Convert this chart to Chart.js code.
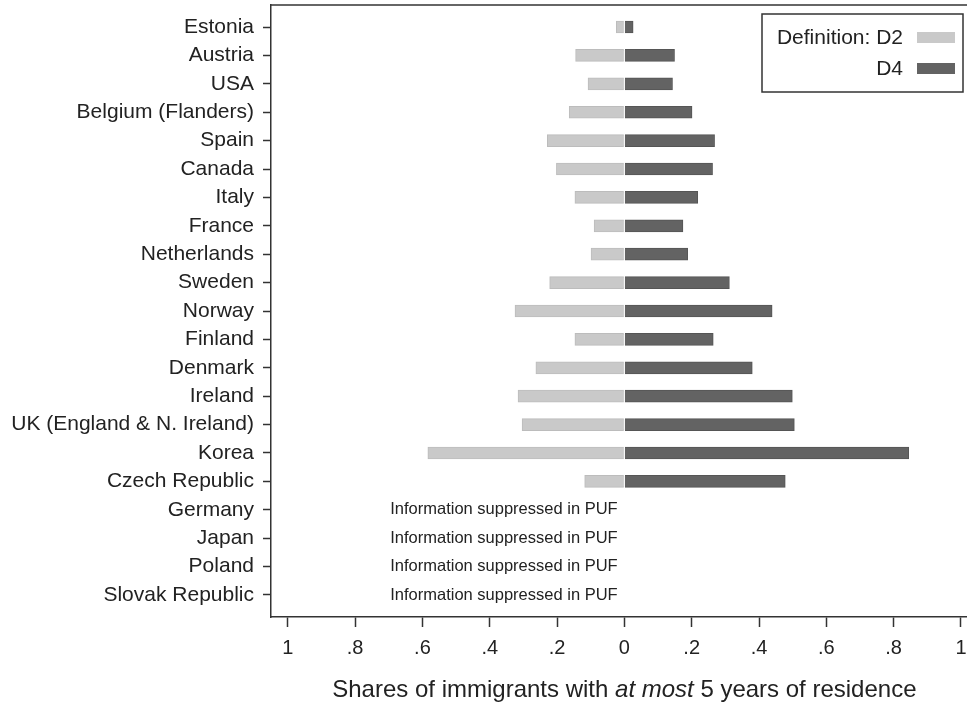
<!DOCTYPE html>
<html>
<head>
<meta charset="utf-8">
<script src="https://cdn.jsdelivr.net/npm/chart.js@4.4.1/dist/chart.umd.min.js"></script>
<style>
  html, body { margin: 0; padding: 0; background: #fff; }
  #wrap { width: 967px; height: 709px; position: relative; }
</style>
</head>
<body>
<div id="wrap"><canvas id="mycanvas"></canvas></div>
<script>
var countries = ["Estonia", "Austria", "USA", "Belgium (Flanders)", "Spain", "Canada", "Italy",
  "France", "Netherlands", "Sweden", "Norway", "Finland", "Denmark", "Ireland",
  "UK (England & N. Ireland)", "Korea", "Czech Republic", "Germany", "Japan", "Poland", "Slovak Republic"];

// shares (null = suppressed)
var d2 = [0.024, 0.145, 0.108, 0.164, 0.229, 0.202, 0.147, 0.090, 0.099, 0.222, 0.325,
  0.147, 0.263, 0.316, 0.304, 0.584, 0.118, null, null, null, null];
var d4 = [0.026, 0.149, 0.143, 0.201, 0.268, 0.262, 0.218, 0.174, 0.188, 0.312, 0.439,
  0.264, 0.380, 0.499, 0.505, 0.845, 0.478, null, null, null, null];

var xTicks = [-1, -0.8, -0.6, -0.4, -0.2, 0, 0.2, 0.4, 0.6, 0.8, 1];
var suppressedText = "Information suppressed in PUF";
var titleParts = [["Shares of immigrants with ", false], ["at most", true], [" 5 years of residence", false]];

var FONT = "'Liberation Sans', Arial, Helvetica, sans-serif";

var d2pts = [], d4pts = [];
for (var i in countries) {
  if (d2[i] != null) d2pts.push({x: -d2[i], y: +i});
  if (d4[i] != null) d4pts.push({x: d4[i], y: +i});
}

var chartdata = {
  datasets: [
    {
      label: "Definition: D2",
      backgroundColor: "#c9c9c9",
      borderColor: "#bcbcbc",
      borderWidth: 1,
      barThickness: 12,
      data: d2pts
    },
    {
      label: "D4",
      backgroundColor: "#636363",
      borderColor: "#555555",
      borderWidth: 1,
      barThickness: 12,
      data: d4pts
    }
  ]
};

var extras = {
  id: "extras",
  afterDatasetsDraw: function(chart) {
    var ctx = chart.ctx, a = chart.chartArea;
    var xs = chart.scales.x, ys = chart.scales.y;
    ctx.save();
    // top frame line
    ctx.strokeStyle = "#333";
    ctx.lineWidth = 1.5;
    ctx.beginPath();
    ctx.moveTo(a.left, a.top);
    ctx.lineTo(a.right, a.top);
    ctx.stroke();

    // suppressed notes
    ctx.fillStyle = "#222";
    ctx.font = "16.5px " + FONT;
    ctx.textAlign = "right";
    ctx.textBaseline = "middle";
    for (var i in countries) {
      if (d2[i] == null && d4[i] == null)
        ctx.fillText(suppressedText, xs.getPixelForValue(-0.02), ys.getPixelForValue(+i));
    }

    // legend
    var bx = a.right - 205, by = a.top + 9;
    ctx.strokeStyle = "#333";
    ctx.lineWidth = 1.5;
    ctx.strokeRect(bx, by, 201, 78);
    ctx.font = "21px " + FONT;
    var ds = chart.data.datasets;
    for (var k = 0; k < ds.length; k++) {
      var ry = by + 24 + k * 31;
      ctx.fillStyle = "#222";
      ctx.fillText(ds[k].label, bx + 141, ry);
      ctx.fillStyle = ds[k].backgroundColor;
      ctx.fillRect(bx + 155, ry - 6, 38, 11);
    }

    // x axis title with italic part
    var widths = titleParts.map(function(p) {
      ctx.font = (p[1] ? "italic " : "") + "24px " + FONT;
      return ctx.measureText(p[0]).width;
    });
    var total = widths.reduce(function(s, w) { return s + w; }, 0);
    var tx = xs.getPixelForValue(0) - total / 2;
    ctx.textAlign = "left";
    ctx.fillStyle = "#222";
    for (var p = 0; p < titleParts.length; p++) {
      ctx.font = (titleParts[p][1] ? "italic " : "") + "24px " + FONT;
      ctx.fillText(titleParts[p][0], tx, 690);
      tx += widths[p];
    }
    ctx.restore();
  }
};

var ctx = document.getElementById("mycanvas");

var barGraph = new Chart(ctx, {
  type: "bar",
  data: chartdata,
  plugins: [extras],
  options: {
    indexAxis: "y",
    responsive: true,
    maintainAspectRatio: false,
    animation: false,
    layout: { padding: { top: 5, right: 0, left: 0, bottom: 0 } },
    plugins: { legend: { display: false }, tooltip: { enabled: false } },
    scales: {
      x: {
        type: "linear",
        stacked: true,
        offset: false,
        min: -1.05,
        max: 1.018,
        afterBuildTicks: function(scale) {
          scale.ticks = xTicks.map(function(v) { return {value: v}; });
        },
        afterFit: function(scale) {
          scale.height = 92;
          scale.paddingLeft = 0;
          scale.paddingRight = 0;
        },
        grid: { offset: false, drawOnChartArea: false, drawTicks: true, tickLength: 10, tickColor: "#333", tickWidth: 1.5 },
        border: { display: true, color: "#333", width: 1.5 },
        ticks: {
          color: "#222",
          font: { family: FONT, size: 20 },
          padding: 9,
          maxRotation: 0,
          autoSkip: false,
          callback: function(v) {
            var a = Math.abs(v);
            if (a < 1e-9) return "0";
            if (Math.abs(a - 1) < 1e-9) return "1";
            return "." + Math.round(a * 10);
          }
        }
      },
      y: {
        type: "linear",
        stacked: true,
        reverse: true,
        offset: false,
        min: -0.775,
        max: 20.775,
        afterBuildTicks: function(scale) {
          scale.ticks = countries.map(function(c, i) { return {value: i}; });
        },
        afterFit: function(scale) {
          scale.width = 271;
          scale.paddingTop = 0;
          scale.paddingBottom = 0;
        },
        grid: { offset: false, drawOnChartArea: false, drawTicks: true, tickLength: 8, tickColor: "#333", tickWidth: 1.5 },
        border: { display: true, color: "#333", width: 1.5 },
        ticks: {
          color: "#222",
          font: { family: FONT, size: 21 },
          padding: 9,
          autoSkip: false,
          callback: function(v) { return countries[v]; }
        }
      }
    }
  }
});
</script>
</body>
</html>
